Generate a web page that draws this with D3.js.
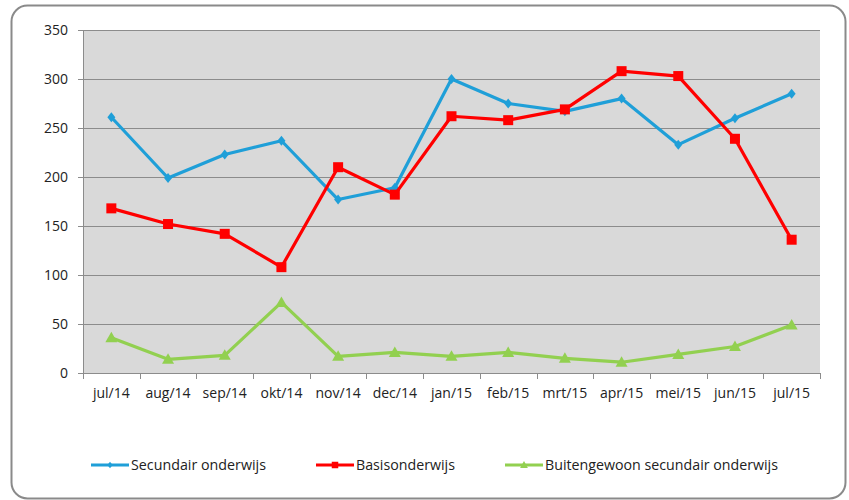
<!DOCTYPE html>
<html><head><meta charset="utf-8">
<script src="https://cdn.jsdelivr.net/npm/d3@7"></script>
<style>body{margin:0;background:#fff}svg{display:block}</style>
</head><body><svg id="c" width="849" height="500"></svg>
<script>
const categories = ["jul/14","aug/14","sep/14","okt/14","nov/14","dec/14","jan/15","feb/15","mrt/15","apr/15","mei/15","jun/15","jul/15"];
const secundair = [261,199,223,237,177,189,300,275,267,280,233,260,285];
const basis = [168,152,142,108,210,182,262,258,269,308,303,239,136];
const buitengewoon = [36,14,18,72,17,21,17,21,15,11,19,27,49];
const yTicks = [0,50,100,150,200,250,300,350];
const seriesNames = ["Secundair onderwijs","Basisonderwijs","Buitengewoon secundair onderwijs"];

const svg = d3.select("#c");
const font = "Open Sans, Noto Sans, sans-serif";
svg.append("rect").attr("x",11.5).attr("y",5.5).attr("width",834).attr("height",493)
  .attr("rx",16).attr("fill","#fff").attr("stroke","#8a8a8a").attr("stroke-width",2);

const L=83,R=820,T=30,B=373;
const x = d3.scaleBand().domain(categories).range([L,R]);
const y = d3.scaleLinear().domain([0,350]).range([B,T]);

svg.append("rect").attr("x",L).attr("y",T).attr("width",R-L).attr("height",B-T).attr("fill","#d9d9d9");
svg.append("g").selectAll("line").data(yTicks.filter(d=>d>0)).join("line")
  .attr("x1",L).attr("x2",R).attr("y1",d=>Math.round(y(d))+0.5).attr("y2",d=>Math.round(y(d))+0.5)
  .attr("stroke","#8c8c8c").attr("stroke-width",1);

const ya = svg.append("g").attr("transform",`translate(${L},0)`)
  .call(d3.axisLeft(y).tickValues(yTicks).tickSize(5).tickPadding(10));
const xa = svg.append("g").attr("transform",`translate(0,${B})`)
  .call(d3.axisBottom(x).tickSize(0).tickPadding(15));
[ya,xa].forEach(a=>{a.select(".domain").attr("stroke","#8c8c8c");a.selectAll("line").attr("stroke","#8c8c8c");
  a.selectAll("text").attr("font-family",font).attr("font-size",14).attr("fill","#222");});
const bounds = categories.map(c=>x(c)).concat([R]);
svg.append("g").selectAll("line").data(bounds).join("line")
  .attr("x1",d=>Math.round(d)+0.5).attr("x2",d=>Math.round(d)+0.5).attr("y1",B).attr("y2",B+6).attr("stroke","#8c8c8c");

const cx = c=>x(c)+x.bandwidth()/2;
const series = [
  {name:seriesNames[0],vals:secundair,color:"#1f9fd8",shape:"diamond"},
  {name:seriesNames[1],vals:basis,color:"#ff0000",shape:"square"},
  {name:seriesNames[2],vals:buitengewoon,color:"#92d050",shape:"triangle"}];
function marker(g,shape,color){
  if(shape==="diamond") g.append("path").attr("d","M0,-5L4,0L0,5L-4,0Z").attr("fill",color);
  if(shape==="square") g.append("rect").attr("x",-5).attr("y",-5).attr("width",10).attr("height",10).attr("fill",color);
  if(shape==="triangle") g.append("path").attr("d","M0,-6L6,4.5L-6,4.5Z").attr("fill",color);
}
const line = d3.line().x((d,i)=>cx(categories[i])).y(d=>y(d));
series.forEach(s=>{
  svg.append("path").datum(s.vals).attr("d",line).attr("fill","none").attr("stroke",s.color).attr("stroke-width",3.2).attr("stroke-linejoin","round");
  s.vals.forEach((v,i)=>{ const g=svg.append("g").attr("transform",`translate(${cx(categories[i])},${y(v)})`); marker(g,s.shape,s.color);});
});

// legend
const legX = [91,316,505], legTW=[135,99,233];
series.forEach((s,i)=>{
  const g = svg.append("g").attr("transform",`translate(${legX[i]},465)`);
  g.append("line").attr("x1",0).attr("x2",38).attr("stroke",s.color).attr("stroke-width",3);
  const m = g.append("g").attr("transform","translate(19,0) scale(0.65)"); marker(m,s.shape,s.color);
  g.append("text").attr("x",40).attr("y",5).attr("font-family",font).attr("font-size",15).attr("fill","#222")
    .attr("textLength",legTW[i]).attr("lengthAdjust","spacingAndGlyphs").text(s.name);
});
</script></body></html>
